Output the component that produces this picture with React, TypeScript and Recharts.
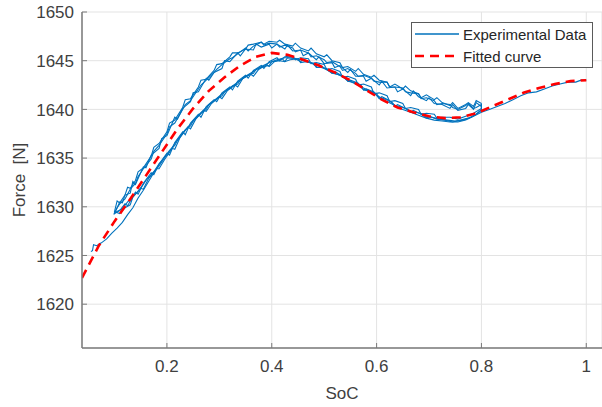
import React from 'react';
import { LineChart, Line, XAxis, YAxis, CartesianGrid } from 'recharts';

const xTicks = [0.2, 0.4, 0.6, 0.8, 1];
const yTicks = [1620, 1625, 1630, 1635, 1640, 1645, 1650];

const P = (a: number[][]) => a.map(([x, y]) => ({ x, y }));

const mainTrace = P([[0.055,1625.4],[0.058,1625.5],[0.06,1626.1],[0.066,1626.0],[0.075,1626.3],[0.085,1626.7],[0.095,1627.3],[0.105,1627.8],[0.115,1628.4],[0.125,1629.2],[0.135,1629.9],[0.145,1630.9],[0.155,1631.7],[0.165,1632.6],[0.175,1633.5],[0.185,1634.2],[0.195,1635.0],[0.205,1635.7],[0.215,1636.5],[0.23,1637.6],[0.245,1638.5],[0.26,1639.4],[0.275,1640.2],[0.29,1640.9],[0.305,1641.6],[0.32,1642.2],[0.335,1642.8],[0.35,1643.4],[0.365,1643.9],[0.38,1644.4],[0.395,1644.8],[0.41,1645.1],[0.425,1645.3],[0.44,1645.3],[0.455,1645.1],[0.47,1644.9],[0.485,1644.6],[0.5,1644.2],[0.515,1643.8],[0.53,1643.5],[0.545,1643.0],[0.56,1642.6],[0.575,1642.2],[0.59,1641.8],[0.605,1641.3],[0.62,1640.8],[0.635,1640.4],[0.65,1640.0],[0.665,1639.7],[0.68,1639.4],[0.695,1639.1],[0.71,1638.9],[0.725,1638.8],[0.74,1638.7],[0.755,1638.7],[0.77,1638.9],[0.785,1639.3],[0.8,1639.7],[0.815,1640.0],[0.83,1640.3],[0.845,1640.6],[0.86,1641.0],[0.875,1641.4],[0.89,1641.7],[0.905,1641.8],[0.92,1642.1],[0.935,1642.4],[0.95,1642.6],[0.965,1642.8],[0.98,1642.8],[0.99,1643.0],[1.0,1643.0]]);

const loop1 = P([[0.8,1640.6],[0.79,1640.9],[0.785,1640.3],[0.775,1640.7],[0.77,1640.5],[0.755,1640.1],[0.745,1640.7],[0.74,1640.4],[0.725,1640.7],[0.715,1641.2],[0.71,1641.0],[0.695,1641.5],[0.685,1641.2],[0.68,1641.6],[0.665,1641.9],[0.655,1642.4],[0.65,1642.1],[0.635,1642.6],[0.625,1642.3],[0.62,1642.8],[0.605,1643.0],[0.595,1643.5],[0.59,1643.3],[0.575,1643.6],[0.565,1644.2],[0.56,1643.9],[0.545,1644.4],[0.535,1644.3],[0.53,1644.8],[0.515,1645.0],[0.505,1645.6],[0.5,1645.4],[0.485,1645.7],[0.475,1646.3],[0.47,1646.0],[0.455,1646.3],[0.445,1646.8],[0.44,1646.5],[0.425,1646.7],[0.415,1647.1],[0.41,1646.9],[0.395,1647.0],[0.385,1646.7],[0.38,1646.9],[0.365,1646.7],[0.355,1646.6],[0.35,1646.2],[0.335,1645.8],[0.325,1645.8],[0.32,1645.4],[0.305,1644.7],[0.295,1644.6],[0.29,1644.0],[0.275,1643.1],[0.265,1643.0],[0.26,1642.3],[0.245,1641.1],[0.235,1641.0],[0.23,1640.2],[0.215,1638.9],[0.205,1638.6],[0.2,1637.7],[0.185,1636.5],[0.175,1636.1],[0.17,1635.2],[0.155,1634.0],[0.145,1633.6],[0.14,1632.7],[0.13,1631.9],[0.125,1632.0],[0.12,1631.2],[0.11,1630.4],[0.105,1630.6],[0.1,1629.5],
[0.11,1629.3],[0.12,1629.9],[0.13,1630.2],[0.135,1631.0],[0.15,1631.9],[0.155,1631.8],[0.165,1632.9],[0.18,1633.9],[0.185,1633.9],[0.195,1634.8],[0.21,1636.0],[0.215,1635.9],[0.225,1637.1],[0.24,1638.2],[0.245,1638.0],[0.255,1639.0],[0.27,1639.9],[0.275,1639.8],[0.285,1640.6],[0.3,1641.3],[0.305,1641.1],[0.315,1641.9],[0.33,1642.5],[0.335,1642.3],[0.345,1643.2],[0.36,1643.6],[0.365,1643.4],[0.375,1644.1],[0.39,1644.6],[0.395,1644.4],[0.405,1644.9],[0.42,1645.2],[0.425,1644.9],[0.435,1645.1],[0.45,1645.2],[0.455,1644.8],[0.465,1644.9],[0.48,1644.7],[0.485,1644.3],[0.495,1644.3],[0.51,1644.1],[0.515,1643.7],[0.525,1643.6],[0.54,1643.3],[0.545,1642.9],[0.555,1642.8],[0.57,1642.5],[0.575,1642.0],[0.585,1641.9],[0.6,1641.6],[0.605,1641.2],[0.615,1641.1],[0.63,1640.7],[0.635,1640.4],[0.645,1640.3],[0.66,1640.0],[0.665,1639.7],[0.675,1639.7],[0.69,1639.5],[0.695,1639.2],[0.705,1639.2],[0.72,1639.0],[0.735,1638.9],[0.75,1638.8],[0.765,1638.9],[0.78,1639.2],[0.79,1639.5],[0.8,1639.9],[0.8,1640.6]]);

const loop2 = P([[0.8,1640.3],[0.79,1640.7],[0.785,1640.0],[0.775,1640.5],[0.77,1640.1],[0.755,1639.9],[0.745,1640.5],[0.74,1640.1],[0.725,1640.5],[0.71,1640.6],[0.7,1641.2],[0.695,1640.9],[0.68,1641.3],[0.67,1641.9],[0.665,1641.4],[0.65,1642.1],[0.64,1641.8],[0.635,1642.3],[0.62,1642.2],[0.61,1642.9],[0.605,1642.5],[0.59,1643.2],[0.58,1642.9],[0.575,1643.4],[0.56,1643.4],[0.55,1644.1],[0.545,1643.8],[0.53,1644.5],[0.52,1644.3],[0.515,1644.8],[0.5,1644.7],[0.49,1645.4],[0.485,1645.1],[0.47,1645.8],[0.46,1645.5],[0.455,1646.1],[0.44,1646.0],[0.43,1646.6],[0.425,1646.2],[0.41,1646.7],[0.4,1646.3],[0.395,1646.7],[0.38,1646.4],[0.37,1646.7],[0.365,1646.1],[0.35,1646.2],[0.34,1645.5],[0.335,1645.8],[0.32,1644.9],[0.31,1645.0],[0.305,1644.2],[0.29,1643.8],[0.28,1643.0],[0.275,1643.2],[0.26,1641.8],[0.25,1641.7],[0.245,1640.8],[0.23,1640.1],[0.22,1639.0],[0.215,1639.2],[0.2,1637.3],[0.19,1637.0],[0.185,1636.0],[0.17,1635.3],[0.16,1634.0],[0.155,1634.1],[0.14,1632.3],[0.135,1632.6],[0.13,1631.4],[0.12,1631.2],[0.115,1630.4],[0.11,1630.5],[0.1,1629.3],
[0.11,1629.6],[0.12,1630.3],[0.125,1630.1],[0.14,1631.5],[0.145,1631.3],[0.155,1632.4],[0.17,1633.5],[0.175,1633.3],[0.185,1634.4],[0.2,1635.5],[0.205,1635.3],[0.215,1636.6],[0.23,1637.7],[0.235,1637.4],[0.245,1638.6],[0.26,1639.5],[0.265,1639.2],[0.275,1640.3],[0.29,1641.0],[0.295,1640.8],[0.305,1641.7],[0.32,1642.3],[0.325,1642.0],[0.335,1642.9],[0.35,1643.5],[0.355,1643.2],[0.365,1644.0],[0.38,1644.5],[0.385,1644.2],[0.395,1644.9],[0.41,1645.3],[0.415,1645.0],[0.425,1645.4],[0.44,1645.5],[0.445,1645.1],[0.455,1645.3],[0.47,1645.2],[0.475,1644.7],[0.485,1644.8],[0.5,1644.6],[0.505,1644.1],[0.515,1644.2],[0.53,1643.9],[0.535,1643.3],[0.545,1643.4],[0.56,1643.1],[0.565,1642.5],[0.575,1642.6],[0.59,1642.3],[0.595,1641.6],[0.605,1641.7],[0.62,1641.4],[0.625,1640.8],[0.635,1640.9],[0.65,1640.6],[0.655,1640.1],[0.665,1640.2],[0.68,1640.0],[0.685,1639.5],[0.695,1639.6],[0.71,1639.5],[0.715,1639.1],[0.725,1639.2],[0.74,1639.2],[0.755,1639.0],[0.77,1639.3],[0.785,1639.6],[0.8,1640.1],[0.8,1640.3]]);

const loop3 = P([[0.8,1640.5],[0.79,1640.2],[0.785,1640.1],[0.775,1640.6],[0.77,1640.4],[0.755,1640.0],[0.745,1640.2],[0.74,1640.5],[0.725,1640.6],[0.715,1640.5],[0.71,1640.9],[0.695,1641.2],[0.685,1641.1],[0.68,1641.6],[0.665,1641.7],[0.655,1641.8],[0.65,1642.2],[0.635,1642.3],[0.625,1642.3],[0.62,1642.8],[0.605,1642.8],[0.595,1642.9],[0.59,1643.2],[0.575,1643.5],[0.565,1643.4],[0.56,1643.7],[0.545,1644.2],[0.535,1644.0],[0.53,1644.4],[0.515,1644.9],[0.505,1644.8],[0.5,1645.1],[0.485,1645.5],[0.475,1645.4],[0.47,1645.8],[0.455,1646.1],[0.445,1645.9],[0.44,1646.3],[0.425,1646.6],[0.415,1646.4],[0.41,1646.7],[0.395,1646.8],[0.385,1646.6],[0.38,1646.9],[0.365,1646.5],[0.355,1646.0],[0.35,1646.3],[0.335,1645.7],[0.325,1645.3],[0.32,1645.2],[0.305,1644.6],[0.295,1644.1],[0.29,1643.8],[0.275,1643.0],[0.265,1642.5],[0.26,1642.1],[0.245,1640.9],[0.235,1640.5],[0.23,1640.0],[0.215,1638.6],[0.205,1638.2],[0.2,1637.5],[0.185,1636.3],[0.175,1635.7],[0.17,1634.9],[0.155,1633.9],[0.145,1633.1],[0.14,1632.4],[0.13,1631.8],[0.125,1631.3],[0.12,1630.8],[0.11,1630.3],[0.105,1629.9],[0.1,1629.4],
[0.115,1629.8],[0.125,1630.5],[0.13,1630.7],[0.145,1631.6],[0.155,1632.3],[0.16,1632.7],[0.175,1633.6],[0.185,1634.4],[0.19,1634.7],[0.205,1635.8],[0.215,1636.3],[0.22,1636.8],[0.235,1637.9],[0.245,1638.3],[0.25,1638.8],[0.265,1639.6],[0.275,1640.0],[0.28,1640.5],[0.295,1641.1],[0.305,1641.4],[0.31,1641.8],[0.325,1642.4],[0.335,1642.6],[0.34,1643.0],[0.355,1643.5],[0.365,1643.7],[0.37,1644.1],[0.385,1644.4],[0.395,1644.5],[0.4,1644.9],[0.415,1645.0],[0.425,1644.9],[0.43,1645.3],[0.445,1645.2],[0.455,1644.9],[0.46,1645.1],[0.475,1644.8],[0.485,1644.4],[0.49,1644.6],[0.505,1644.1],[0.515,1643.7],[0.52,1643.9],[0.535,1643.4],[0.545,1642.9],[0.55,1643.0],[0.565,1642.7],[0.575,1642.0],[0.58,1642.1],[0.595,1641.8],[0.605,1641.1],[0.61,1641.3],[0.625,1640.9],[0.635,1640.3],[0.64,1640.5],[0.655,1640.1],[0.665,1639.7],[0.67,1639.9],[0.685,1639.5],[0.695,1639.1],[0.7,1639.3],[0.715,1639.0],[0.73,1638.9],[0.745,1638.7],[0.76,1638.9],[0.775,1639.1],[0.79,1639.5],[0.8,1640.0],[0.8,1640.5]]);

const fitted = P([[0.038,1622.7],[0.07,1626.0],[0.1,1628.5],[0.13,1630.8],[0.16,1633.2],[0.19,1635.6],[0.22,1638.0],[0.25,1640.1],[0.28,1641.9],[0.31,1643.3],[0.34,1644.5],[0.37,1645.4],[0.4,1645.8],[0.43,1645.6],[0.46,1645.1],[0.49,1644.5],[0.52,1643.8],[0.55,1643.0],[0.58,1642.0],[0.61,1641.0],[0.64,1640.2],[0.67,1639.7],[0.7,1639.3],[0.73,1639.1],[0.76,1639.2],[0.79,1639.6],[0.82,1640.3],[0.85,1641.0],[0.88,1641.7],[0.91,1642.2],[0.94,1642.6],[0.97,1642.9],[1.0,1643.0]]);

const FONT = '"Liberation Sans", Arial, sans-serif';
const TXT = '#404040';
const AX = '#7a7a7a';
const BLUE = '#0072BD';
const RED = '#FF0000';

const YTick = (props: any) => {
  const { x, y, payload } = props;
  return (
    <g>
      <line x1={x + 8} y1={y} x2={x + 13} y2={y} stroke={AX} strokeWidth={1} />
      <text x={x} y={y} dy="0.36em" textAnchor="end" fill={TXT} fontSize={17} fontFamily={FONT}>{payload.value}</text>
    </g>
  );
};

const XTick = (props: any) => {
  const { x, y, payload } = props;
  return (
    <g>
      <line x1={x} y1={y - 12} x2={x} y2={y - 17} stroke={AX} strokeWidth={1} />
      <text x={x} y={y} dy="0.71em" textAnchor="middle" fill={TXT} fontSize={17} fontFamily={FONT}>{String(payload.value)}</text>
    </g>
  );
};

const LegendBox = () => (
  <div style={{ position: 'absolute', left: 411, top: 22, width: 182, height: 46, border: '1px solid #5a5a5a', background: '#fff', boxSizing: 'border-box' }}>
    <svg width={180} height={44} style={{ position: 'absolute', left: 0, top: 0 }}>
      <line x1={3} y1={11} x2={47} y2={11} stroke={BLUE} strokeWidth={1.5} />
      <line x1={3} y1={33} x2={47} y2={33} stroke={RED} strokeWidth={2.5} strokeDasharray="9 6" />
      <text x={51} y={17} fontSize={15} fontFamily={FONT} fill="#262626">Experimental Data</text>
      <text x={51} y={39} fontSize={15} fontFamily={FONT} fill="#262626">Fitted curve</text>
    </svg>
  </div>
);

export default function App() {
  return (
    <div style={{ position: 'absolute', left: 0, top: 0, width: 602, height: 407, background: '#fff' }}>
      <LineChart width={602} height={407} margin={{ top: 12, right: 0, bottom: 0, left: 0 }}>
        <CartesianGrid stroke="#e3e3e3" strokeWidth={1} />
        <XAxis
          dataKey="x"
          type="number"
          domain={[0.038, 1.03]}
          ticks={xTicks}
          allowDataOverflow
          height={59}
          tickLine={false}
          tickMargin={6}
          tick={<XTick />}
          axisLine={{ stroke: AX, strokeWidth: 1.5 }}
          label={{ value: 'SoC', position: 'insideBottom', offset: 8, fill: TXT, fontSize: 17, fontFamily: FONT }}
        />
        <YAxis
          dataKey="y"
          type="number"
          domain={[1615.5, 1650]}
          ticks={yTicks}
          allowDataOverflow
          width={82}
          tickLine={false}
          tickMargin={2}
          tick={<YTick />}
          axisLine={{ stroke: AX, strokeWidth: 1.5 }}
          label={{ value: 'Force\u00A0 [N]', angle: -90, position: 'insideLeft', offset: 19, fill: TXT, fontSize: 17, fontFamily: FONT, style: { textAnchor: 'middle' } }}
        />
        <Line data={loop1} dataKey="y" stroke={BLUE} strokeWidth={1.1} dot={false} isAnimationActive={false} />
        <Line data={loop2} dataKey="y" stroke={BLUE} strokeWidth={1.1} dot={false} isAnimationActive={false} />
        <Line data={loop3} dataKey="y" stroke={BLUE} strokeWidth={1.1} dot={false} isAnimationActive={false} />
        <Line data={mainTrace} dataKey="y" stroke={BLUE} strokeWidth={1.1} dot={false} isAnimationActive={false} name="Experimental Data" />
        <Line data={fitted} dataKey="y" stroke={RED} strokeWidth={2.6} strokeDasharray="9 6" dot={false} isAnimationActive={false} name="Fitted curve" />
      </LineChart>
      <LegendBox />
    </div>
  );
}
